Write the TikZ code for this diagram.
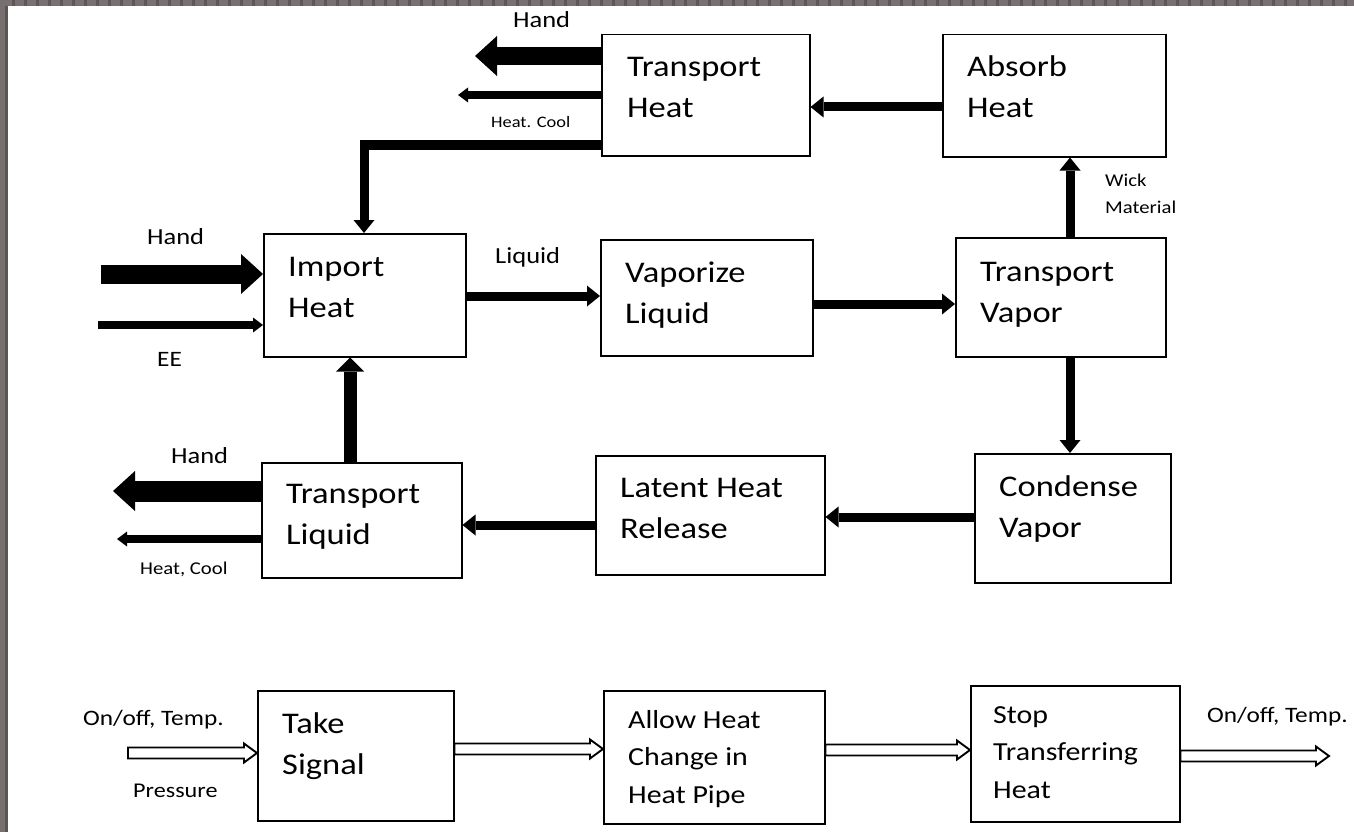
\documentclass[tikz,border=0pt]{standalone}
\usepackage{fontspec}
\setmainfont{Carlito}[FakeStretch=1.15]
\usetikzlibrary{arrows.meta,calc}
\definecolor{bordergray}{RGB}{120,112,112}
\definecolor{borderdark}{RGB}{92,86,86}
\begin{document}
\begin{tikzpicture}[x=1pt,y=-1pt,
  box/.style={draw, line width=1.5pt, anchor=north west, inner sep=0pt},
  btxt/.style={anchor=north west, inner sep=0pt, align=left, font=\fontsize{30}{41}\selectfont},
  stxt/.style={anchor=north west, inner sep=0pt, align=left, font=\fontsize{26}{37.5}\selectfont},
  lbl/.style={anchor=base west, inner sep=0pt},
  flow/.style={line width=9pt, -{Triangle[length=13pt,width=21pt,line width=0pt]}},
  flowthick/.style={line width=13pt, -{Triangle[length=14pt,width=28pt,line width=0pt]}},
  bigflow/.style={line width=#1, -{Triangle[length=22pt,width=40pt,line width=0pt]}},
  thinflow/.style={line width=7.5pt, -{Triangle[length=10pt,width=15pt,line width=0pt]}},
  hollow/.style={line width=1.9pt, line join=miter, to path={($(\tikztostart)+(0,-5.5)$) -- ($(\tikztotarget)+(-13,-5.5)$) -- ($(\tikztotarget)+(-13,-9.5)$) -- (\tikztotarget) -- ($(\tikztotarget)+(-13,9.5)$) -- ($(\tikztotarget)+(-13,5.5)$) -- ($(\tikztostart)+(0,5.5)$) -- cycle}}
]
\useasboundingbox (0,0) rectangle (1354,832);
\fill[white] (0,0) rectangle (1354,832);
% window border
\fill[bordergray] (0,0) rectangle (1354,6);
\draw[borderdark, line width=6pt, dash pattern=on 3pt off 9pt] (0,3) -- (1354,3);
\fill[bordergray] (0,0) rectangle (8,832);
\fill[borderdark] (5,6) rectangle (8,832);

% boxes
\node[box, minimum width=208, minimum height=121] (th) at (601,34) {};
\node[btxt] (thT) at (627,52) {\rule{0pt}{24pt}Transport\\Heat};
\node[box, minimum width=223, minimum height=122] (ah) at (942,34) {};
\node[btxt] (ahT) at (967,52) {\rule{0pt}{24pt}Absorb\\Heat};
\node[box, minimum width=202, minimum height=123] (ih) at (263,233) {};
\node[btxt] (ihT) at (288,252) {\rule{0pt}{24pt}Import\\Heat};
\node[box, minimum width=212, minimum height=116] (vl) at (600,239) {};
\node[btxt] (vlT) at (625,258) {\rule{0pt}{24pt}Vaporize\\Liquid};
\node[box, minimum width=210, minimum height=119] (tv) at (955,237) {};
\node[btxt] (tvT) at (980,257) {\rule{0pt}{24pt}Transport\\Vapor};
\node[box, minimum width=196, minimum height=129] (cv) at (974,453) {};
\node[btxt] (cvT) at (999,472) {\rule{0pt}{24pt}Condense\\Vapor};
\node[box, minimum width=229, minimum height=119] (lh) at (595,455) {};
\node[btxt] (lhT) at (620,473) {\rule{0pt}{24pt}Latent Heat\\Release};
\node[box, minimum width=200, minimum height=115] (tl) at (261,462) {};
\node[btxt] (tlT) at (286,479) {\rule{0pt}{24pt}Transport\\Liquid};
\node[box, minimum width=196, minimum height=130] (ts) at (257,690) {};
\node[btxt] (tsT) at (282,709) {\rule{0pt}{24pt}Take\\Signal};
\node[box, minimum width=221, minimum height=133] (ac) at (603,690) {};
\node[stxt] (acT) at (628,707) {\rule{0pt}{21pt}Allow Heat\\Change in\\Heat Pipe};
\node[box, minimum width=209, minimum height=136] (st) at (970,685) {};
\node[stxt] (stT) at (993,702) {\rule{0pt}{21pt}Stop\\Transferring\\Heat};

% main flow
\draw[flow] (th.west |- 0,145) -| (ih.north -| 364,0);
\draw[flow] (ah.west |- 0,107) -- (th.east |- 0,107);
\draw[flow] (tv.north -| 1070,0) -- (ah.south -| 1070,0);
\draw[flow] (ih.east |- 0,296) -- (vl.west |- 0,296);
\draw[flow] (vl.east |- 0,304) -- (tv.west |- 0,304);
\draw[flow] (tv.south -| 1070,0) -- (cv.north -| 1070,0);
\draw[flow] (cv.west |- 0,517) -- (lh.east |- 0,517);
\draw[flow] (lh.west |- 0,525) -- (tl.east |- 0,525);
\draw[flowthick] (tl.north -| 350,0) -- (ih.south -| 350,0);

% inputs / outputs
\coordinate (hin) at (101,274);
\draw[bigflow=19pt] (hin) -- (ih.west |- hin);
\coordinate (eein) at (98,325);
\draw[thinflow] (eein) -- (ih.west |- eein);
\coordinate (hout1) at (475,56);
\draw[bigflow=18pt] (th.west |- hout1) -- (hout1);
\coordinate (hc1) at (458,95);
\draw[thinflow] (th.west |- hc1) -- (hc1);
\coordinate (hout2) at (113,491);
\draw[bigflow=21pt] (tl.west |- hout2) -- (hout2);
\coordinate (hc2) at (117,539);
\draw[thinflow] (tl.west |- hc2) -- (hc2);

% signal row (hollow arrows)
\coordinate (sin) at (128,753);
\coordinate (sinE) at (ts.west |- sin);
\draw[hollow] (sin) to (sinE);
\coordinate (s1) at (ts.east |- 0,749);
\coordinate (s1E) at (ac.west |- 0,749);
\draw[hollow] (s1) to (s1E);
\coordinate (s2) at (ac.east |- 0,750);
\coordinate (s2E) at (st.west |- 0,750);
\draw[hollow] (s2) to (s2E);
\coordinate (sout) at (1329,756);
\coordinate (soutS) at (st.east |- sout);
\draw[hollow] (soutS) to (sout);

% labels
\node[lbl, font=\fontsize{23}{28}\selectfont] (lhand1) at (513,28) {Hand};
\node[lbl, font=\fontsize{16}{20}\selectfont] (lhc1) at (491,128) {Heat. Cool};
\node[lbl, font=\fontsize{18}{27}\selectfont, align=left, anchor=north west] (lwick) at (1105,174) {Wick\\Material};
\node[lbl, font=\fontsize{23}{28}\selectfont] (lliq) at (495,263) {Liquid};
\node[lbl, font=\fontsize{23}{28}\selectfont] (lhand2) at (147,244) {Hand};
\node[lbl, font=\fontsize{22}{28}\selectfont] (lee) at (157,366) {EE};
\node[lbl, font=\fontsize{23}{28}\selectfont] (lhand3) at (171,463) {Hand};
\node[lbl, font=\fontsize{18}{22}\selectfont] (lhc2) at (140,574) {Heat, Cool};
\node[lbl, font=\fontsize{22}{28}\selectfont] (lon1) at (83,725) {On/off, Temp.};
\node[lbl, font=\fontsize{21}{26}\selectfont] (lpr) at (133,797) {Pressure};
\node[lbl, font=\fontsize{22}{28}\selectfont] (lon2) at (1207,722) {On/off, Temp.};
\end{tikzpicture}
\end{document}
